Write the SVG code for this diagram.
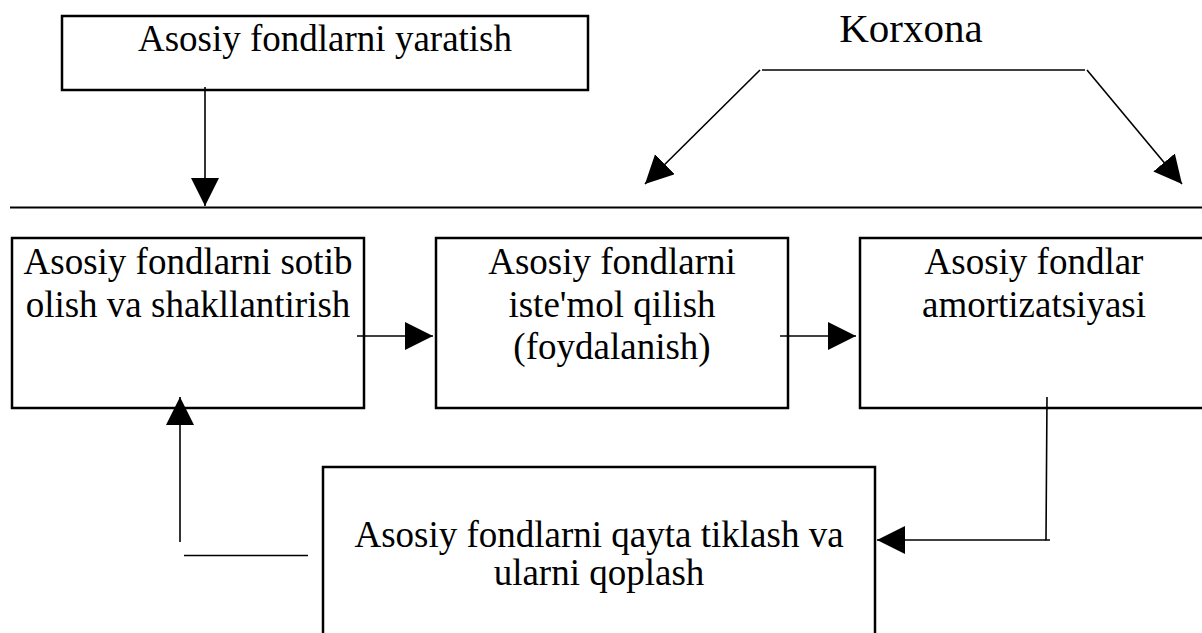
<svg xmlns="http://www.w3.org/2000/svg" width="1202" height="633" viewBox="0 0 1202 633">
<style>
.box{fill:#fff;stroke:#000;stroke-width:2.5}
.t{font-family:"Liberation Serif","Times New Roman",serif;font-size:37px;fill:#000;text-anchor:middle}
.c{fill:none;stroke:#000;stroke-width:1.6}
</style>
<defs>
<marker id="ah" markerWidth="30" markerHeight="30" refX="28" refY="14" orient="auto" markerUnits="userSpaceOnUse"><path d="M0,0 L28,14 L0,28 Z" fill="#000"/></marker>
</defs>
<rect width="1202" height="633" fill="#fff"/>
<g id="n-yaratish">
<rect class="box" x="62" y="16" width="526" height="74"/>
<text class="t" x="325" y="51">Asosiy fondlarni yaratish</text>
</g>
<g id="n-korxona">
<text class="t" x="911" y="42" style="font-size:41px">Korxona</text>
</g>
<g id="n-sotib">
<rect class="box" x="12" y="238" width="352" height="170"/>
<text class="t" x="188" y="274">Asosiy fondlarni sotib</text>
<text class="t" x="188" y="317">olish va shakllantirish</text>
</g>
<g id="n-istemol">
<rect class="box" x="436" y="238" width="352" height="170"/>
<text class="t" x="612" y="274">Asosiy fondlarni</text>
<text class="t" x="612" y="317">iste'mol qilish</text>
<text class="t" x="612" y="359">(foydalanish)</text>
</g>
<g id="n-amort">
<rect class="box" x="860" y="238" width="360" height="170"/>
<text class="t" x="1034" y="274">Asosiy fondlar</text>
<text class="t" x="1034" y="317">amortizatsiyasi</text>
</g>
<g id="n-qayta">
<rect class="box" x="323" y="467" width="552" height="200"/>
<text class="t" x="599" y="547">Asosiy fondlarni qayta tiklash va</text>
<text class="t" x="599" y="585">ularni qoplash</text>
</g>
<g id="connectors">
<line class="c" x1="10" y1="207.5" x2="1202" y2="207.5" style="stroke-width:2"/>
<line class="c" x1="205" y1="87" x2="205" y2="206" marker-end="url(#ah)"/>
<line class="c" x1="762" y1="70" x2="1085" y2="70"/>
<line class="c" x1="760" y1="70" x2="645" y2="184" marker-end="url(#ah)"/>
<line class="c" x1="1087" y1="70" x2="1182" y2="184" marker-end="url(#ah)"/>
<line class="c" x1="357" y1="336" x2="433" y2="336" marker-end="url(#ah)"/>
<line class="c" x1="780" y1="336" x2="856" y2="336" marker-end="url(#ah)"/>
<polyline class="c" points="1047,397 1046,540 1050,540"/>
<line class="c" x1="1046" y1="540" x2="877" y2="540" marker-end="url(#ah)"/>
<line class="c" x1="184" y1="555.5" x2="308" y2="555.5"/>
<line class="c" x1="180" y1="542" x2="180" y2="397" marker-end="url(#ah)"/>
</g>
</svg>
